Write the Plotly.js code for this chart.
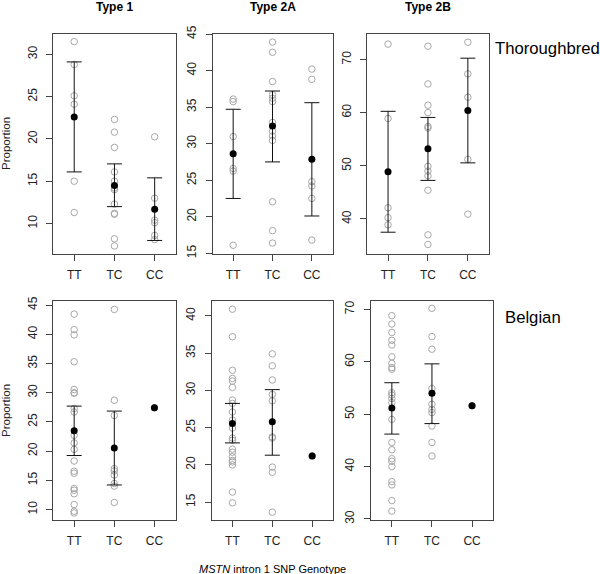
<!DOCTYPE html>
<html><head><meta charset="utf-8">
<script src="https://cdn.plot.ly/plotly-3.0.1.min.js"></script>
<style>html,body{margin:0;padding:0;background:#fff}#chart{width:600px;height:574px}</style>
</head><body><div id="chart"></div><script>
const genotypes = ['TT', 'TC', 'CC'];
const fibreTypes = ['Type 1', 'Type 2A', 'Type 2B'];
const breeds = ['Thoroughbred', 'Belgian'];

// Thoroughbred, Type 1
const tb1_TT = [31.5, 28.8, 25.1, 24.1, 15.0, 11.3];
const tb1_TC = [22.3, 20.8, 19.0, 16.1, 15.0, 14.2, 14.0, 12.3, 11.2, 11.1, 8.2, 7.35];
const tb1_CC = [20.25, 13.0, 10.4, 10.1, 8.6, 8.1];
const tb1_mean = [22.6, 14.5, 11.7];
const tb1_upper = [29.1, 17.05, 15.4];
const tb1_lower = [16.1, 12.0, 8.0];

// Thoroughbred, Type 2A
const tb2a_TT = [36.1, 35.75, 30.96, 26.6, 26.25, 16.1];
const tb2a_TC = [43.9, 42.5, 38.5, 36.7, 36.2, 35.75, 32.9, 31.7, 31.05, 30.45, 22.05, 18.1, 16.4];
const tb2a_CC = [40.2, 38.8, 24.8, 24.2, 22.5, 16.8];
const tb2a_mean = [28.6, 32.4, 27.85];
const tb2a_upper = [34.7, 37.2, 35.6];
const tb2a_lower = [22.5, 27.5, 20.1];

// Thoroughbred, Type 2B
const tb2b_TT = [72.9, 58.9, 42.1, 40.25, 38.9];
const tb2b_TC = [72.5, 65.4, 61.4, 60.0, 57.4, 57.1, 49.9, 49.0, 48.1, 45.4, 37.0, 35.2];
const tb2b_CC = [73.25, 67.3, 62.9, 51.2, 40.9];
const tb2b_mean = [48.9, 53.2, 60.4];
const tb2b_upper = [60.25, 59.1, 70.25];
const tb2b_lower = [37.5, 47.25, 50.55];

// Belgian, Type 1
const be1_TT = [43.46, 40.8, 39.9, 35.3, 30.55, 30.0, 29.9, 27.3, 26.7, 22.7, 21.4, 20.3, 18.3, 16.55, 16.2, 13.6, 13.3, 12.7, 10.85, 9.7, 9.4];
const be1_TC = [44.26, 28.7, 26.1, 17.0, 16.6, 15.9, 14.45, 14.0, 11.2];
const be1_CC = [27.4];
const be1_mean = [23.5, 20.55, 27.4];
const be1_upper = [27.7, 26.85, null];
const be1_lower = [19.24, 14.2, null];

// Belgian, Type 2A
const be2a_TT = [40.9, 37.2, 32.7, 31.6, 31.25, 30.4, 28.7, 28.25, 27.1, 26.0, 24.95, 23.6, 23.3, 22.1, 21.7, 21.1, 20.6, 20.4, 20.0, 16.35, 14.9];
const be2a_TC = [34.9, 33.3, 31.4, 29.45, 28.6, 23.75, 23.6, 19.7, 19.0, 13.65];
const be2a_CC = [21.2];
const be2a_mean = [25.55, 25.8, 21.2];
const be2a_upper = [28.25, 30.1, null];
const be2a_lower = [22.95, 21.3, null];

// Belgian, Type 2B
const be2b_TT = [68.8, 67.2, 65.6, 64.1, 63.2, 60.95, 59.7, 58.9, 58.6, 54.1, 53.65, 53.0, 52.2, 49.0, 44.6, 43.2, 41.5, 41.0, 40.0, 37.15, 36.5, 33.5, 31.5];
const be2b_TC = [70.2, 64.8, 62.4, 54.9, 51.9, 50.9, 50.3, 47.75, 44.6, 42.0];
const be2b_CC = [51.6];
const be2b_mean = [51.2, 54.0, 51.6];
const be2b_upper = [56.0, 59.6, null];
const be2b_lower = [46.2, 48.2, null];

// y tick values per panel
const ticks_tb1 = [10, 15, 20, 25, 30];
const ticks_tb2a = [15, 20, 25, 30, 35, 40, 45];
const ticks_tb2b = [40, 50, 60, 70];
const ticks_be1 = [10, 15, 20, 25, 30, 35, 40, 45];
const ticks_be2a = [15, 20, 25, 30, 35, 40];
const ticks_be2b = [30, 40, 50, 60, 70];

const panels = [
  {pts: [tb1_TT, tb1_TC, tb1_CC], mean: tb1_mean, up: tb1_upper, lo: tb1_lower, ticks: ticks_tb1, yr: [6.4, 32.4], xd: [53.3, 176], yd: [34, 254]},
  {pts: [tb2a_TT, tb2a_TC, tb2a_CC], mean: tb2a_mean, up: tb2a_upper, lo: tb2a_lower, ticks: ticks_tb2a, yr: [14.9, 45.0], xd: [212.7, 332.7], yd: [34, 254]},
  {pts: [tb2b_TT, tb2b_TC, tb2b_CC], mean: tb2b_mean, up: tb2b_upper, lo: tb2b_lower, ticks: ticks_tb2b, yr: [33.4, 74.8], xd: [367.3, 489], yd: [34, 254]},
  {pts: [be1_TT, be1_TC, be1_CC], mean: be1_mean, up: be1_upper, lo: be1_lower, ticks: ticks_be1, yr: [8.2, 45.7], xd: [53.3, 175.7], yd: [301, 520]},
  {pts: [be2a_TT, be2a_TC, be2a_CC], mean: be2a_mean, up: be2a_upper, lo: be2a_lower, ticks: ticks_be2a, yr: [12.6, 42.0], xd: [211.7, 333.3], yd: [301, 520]},
  {pts: [be2b_TT, be2b_TC, be2b_CC], mean: be2b_mean, up: be2b_upper, lo: be2b_lower, ticks: ticks_be2b, yr: [29.8, 71.6], xd: [371, 493.3], yd: [301, 520]}
];

const W = 600, H = 574;
const FONT = 'Liberation Sans, Arial, sans-serif';
const traces = [];
const layout = {
  width: W, height: H, autosize: false,
  margin: {l: 0, r: 0, t: 0, b: 0, pad: 0},
  showlegend: false,
  paper_bgcolor: '#fff', plot_bgcolor: '#fff',
  font: {family: FONT, size: 12, color: '#222'},
  annotations: []
};

panels.forEach((p, i) => {
  const n = i + 1;
  const xa = 'x' + (n === 1 ? '' : n), ya = 'y' + (n === 1 ? '' : n);
  // raw points
  const xs = [], ys = [];
  p.pts.forEach((arr, g) => arr.forEach(v => { xs.push(genotypes[g]); ys.push(v); }));
  traces.push({
    type: 'scatter', mode: 'markers', x: xs, y: ys, xaxis: xa, yaxis: ya,
    marker: {symbol: 'circle-open', size: 6.5, color: '#a8a8a8', line: {width: 1, color: '#a8a8a8'}},
    hoverinfo: 'y', cliponaxis: false
  });
  // means with error bars
  const mx = [], my = [], ep = [], em = [], nx = [], ny = [];
  p.mean.forEach((m, g) => {
    if (p.up[g] !== null) { mx.push(genotypes[g]); my.push(m); ep.push(p.up[g] - m); em.push(m - p.lo[g]); }
    else { nx.push(genotypes[g]); ny.push(m); }
  });
  traces.push({
    type: 'scatter', mode: 'markers', x: mx, y: my, xaxis: xa, yaxis: ya,
    marker: {symbol: 'circle', size: 7, color: '#000'},
    error_y: {type: 'data', symmetric: false, array: ep, arrayminus: em, color: '#111', thickness: 1, width: 7.5},
    hoverinfo: 'y'
  });
  if (nx.length) {
    traces.push({
      type: 'scatter', mode: 'markers', x: nx, y: ny, xaxis: xa, yaxis: ya,
      marker: {symbol: 'circle', size: 7, color: '#000'}, hoverinfo: 'y'
    });
  }
  const axBase = {showline: true, mirror: true, linecolor: '#444', linewidth: 1,
    ticks: 'outside', ticklen: 6, tickcolor: '#444', tickwidth: 1,
    showgrid: false, zeroline: false, fixedrange: true,
    tickfont: {family: FONT, size: 12, color: '#222'}};
  layout['xaxis' + (n === 1 ? '' : n)] = Object.assign({}, axBase, {
    type: 'category', categoryorder: 'array', categoryarray: genotypes,
    range: [-0.52, 2.53], anchor: ya, domain: [p.xd[0] / W, p.xd[1] / W],
    ticklabelstandoff: 4
  });
  layout['yaxis' + (n === 1 ? '' : n)] = Object.assign({}, axBase, {
    range: p.yr, tickvals: p.ticks, ticktext: p.ticks.map(String), tickangle: -90,
    anchor: xa, domain: [(H - p.yd[1]) / H, (H - p.yd[0]) / H],
    ticklabelstandoff: 5
  });
});

// column titles
const titleX = [114.5, 273, 428];
fibreTypes.forEach((t, i) => layout.annotations.push({
  text: '<b>' + t + '</b>', xref: 'paper', yref: 'paper', x: titleX[i] / W, y: (H - 7) / H,
  xanchor: 'center', yanchor: 'middle', showarrow: false, font: {family: FONT, size: 12, color: '#000'}
}));
// breed labels
const breedX = [493, 503], breedY = [49, 317];
breeds.forEach((b, i) => layout.annotations.push({
  text: b, xref: 'paper', yref: 'paper', x: breedX[i] / W, y: (H - breedY[i]) / H,
  xanchor: 'left', yanchor: 'middle', showarrow: false, font: {family: FONT, size: 16.7, color: '#000'}
}));
// y titles
[144, 411].forEach(yc => layout.annotations.push({
  text: 'Proportion', xref: 'paper', yref: 'paper', x: 6 / W, y: (H - yc) / H, textangle: -90,
  xanchor: 'center', yanchor: 'middle', showarrow: false, font: {family: FONT, size: 11.5, color: '#222'}
}));
// x title
layout.annotations.push({
  text: '<i>MSTN</i> intron 1 SNP Genotype', xref: 'paper', yref: 'paper', x: 272.5 / W, y: (H - 569) / H,
  xanchor: 'center', yanchor: 'middle', showarrow: false, font: {family: FONT, size: 11, color: '#000'}
});

Plotly.newPlot('chart', traces, layout, {staticPlot: true, displayModeBar: false});
</script></body></html>
